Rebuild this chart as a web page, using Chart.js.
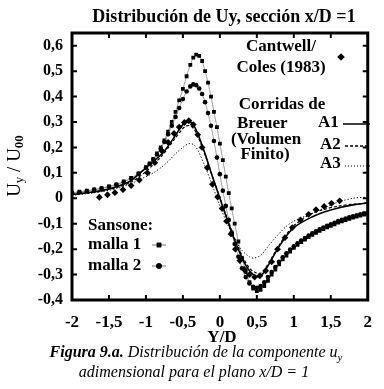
<!DOCTYPE html>
<html>
<head>
<meta charset="utf-8">
<script src="https://cdn.jsdelivr.net/npm/chart.js@4.4.1/dist/chart.umd.min.js"></script>
<style>
  html, body { margin: 0; padding: 0; background: #fff; }
  #wrap { width: 384px; height: 389px; }
</style>
</head>
<body>
<div id="wrap"><canvas id="c" width="384" height="389"></canvas></div>
<script>
// tick values
const xTickValues = [-2, -1.5, -1, -0.5, 0, 0.5, 1, 1.5, 2];
const yTickValues = [-0.4, -0.3, -0.2, -0.1, 0, 0.1, 0.2, 0.3, 0.4, 0.5, 0.6];

// Sansone, malla 1 y malla 2 (mismas posiciones Y/D)
const sansoneX = [-2.0, -1.9, -1.8, -1.7, -1.6, -1.5, -1.4, -1.3, -1.2, -1.1, -1.0, -0.95, -0.9, -0.85,
  -0.8, -0.75, -0.7, -0.65, -0.6, -0.55, -0.5, -0.45, -0.4, -0.36, -0.32, -0.28, -0.24, -0.2, -0.16,
  -0.12, -0.08, -0.04, 0.0, 0.04, 0.08, 0.12, 0.16, 0.2, 0.25, 0.3, 0.35, 0.4, 0.45, 0.5, 0.55, 0.6,
  0.65, 0.7, 0.75, 0.8, 0.85, 0.9, 0.95, 1.0, 1.05, 1.1, 1.15, 1.2, 1.25, 1.3, 1.35, 1.4, 1.45, 1.5,
  1.55, 1.6, 1.65, 1.7, 1.75, 1.8, 1.85, 1.9, 1.95, 2.0];
const malla1Y = [0.022, 0.026, 0.030, 0.035, 0.040, 0.047, 0.055, 0.066, 0.080, 0.098, 0.122, 0.137, 0.155, 0.176,
  0.200, 0.228, 0.262, 0.300, 0.340, 0.385, 0.430, 0.480, 0.525, 0.553, 0.565, 0.560, 0.540, 0.500, 0.455,
  0.400, 0.340, 0.280, 0.215, 0.150, 0.085, 0.020, -0.040, -0.100, -0.170, -0.235, -0.290, -0.330, -0.355, -0.365, -0.360, -0.345,
  -0.325, -0.300, -0.280, -0.260, -0.240, -0.225, -0.210, -0.195, -0.183, -0.172, -0.162, -0.153, -0.144, -0.136, -0.128, -0.121, -0.114, -0.108,
  -0.102, -0.096, -0.091, -0.086, -0.081, -0.076, -0.072, -0.068, -0.064, -0.060];
const malla2Y = [0.020, 0.024, 0.028, 0.033, 0.038, 0.045, 0.053, 0.064, 0.078, 0.096, 0.120, 0.135, 0.152, 0.172,
  0.195, 0.222, 0.252, 0.285, 0.320, 0.355, 0.390, 0.420, 0.440, 0.448, 0.445, 0.432, 0.410, 0.378, 0.335,
  0.285, 0.225, 0.160, 0.095, 0.030, -0.030, -0.085, -0.135, -0.180, -0.230, -0.275, -0.310, -0.335, -0.348, -0.352, -0.345, -0.330,
  -0.310, -0.290, -0.270, -0.250, -0.232, -0.216, -0.202, -0.189, -0.177, -0.166, -0.156, -0.147, -0.138, -0.130, -0.122, -0.115, -0.108, -0.102,
  -0.096, -0.090, -0.085, -0.080, -0.075, -0.071, -0.067, -0.063, -0.059, -0.055];

// Cantwell / Coles (1983)
const cantwellX = [-1.63, -1.52, -1.42, -1.31, -1.2, -1.09, -0.98, -0.88, -0.78, -0.7, -0.62, -0.55, -0.48, -0.42,
  -0.36, -0.3, -0.24, -0.17, -0.1, -0.03, 0.03, 0.09, 0.15, 0.21, 0.27, 0.33, 0.4, 0.47, 0.54, 0.62, 0.7,
  0.78, 0.88, 0.98, 1.09, 1.2, 1.3, 1.41, 1.51, 1.62];
const cantwellY = [0.004, 0.014, 0.022, 0.034, 0.05, 0.072, 0.1, 0.14, 0.185, 0.22, 0.255, 0.28, 0.298, 0.305,
  0.29, 0.25, 0.2, 0.12, 0.055, 0.005, -0.04, -0.09, -0.14, -0.2, -0.245, -0.28, -0.3, -0.31, -0.305, -0.285, -0.25,
  -0.2, -0.155, -0.115, -0.085, -0.063, -0.045, -0.032, -0.02, -0.01];

// Breuer (Volumen Finito) A1, A2, A3
const breuerX = [-2, -1.8, -1.6, -1.4, -1.2, -1.0, -0.9, -0.8, -0.7, -0.6, -0.5, -0.45, -0.4, -0.35, -0.3, -0.2,
  -0.1, 0, 0.1, 0.2, 0.3, 0.4, 0.5, 0.55, 0.6, 0.7, 0.8, 0.9, 1.0, 1.2, 1.4, 1.6, 1.8, 2.0];
const a1Y = [0.015, 0.022, 0.03, 0.045, 0.07, 0.12, 0.145, 0.17, 0.205, 0.248, 0.29, 0.3, 0.3, 0.285, 0.255, 0.175,
  0.085, 0.0, -0.085, -0.165, -0.235, -0.285, -0.308, -0.305, -0.29, -0.24, -0.19, -0.148, -0.115, -0.08, -0.055, -0.038, -0.026, -0.018];
const a2Y = [0.014, 0.02, 0.028, 0.042, 0.064, 0.105, 0.133, 0.162, 0.198, 0.238, 0.275, 0.285, 0.285, 0.272, 0.245, 0.17,
  0.085, 0.003, -0.08, -0.158, -0.225, -0.275, -0.295, -0.295, -0.282, -0.235, -0.185, -0.142, -0.108, -0.066, -0.044, -0.031, -0.023, -0.019];
const a3X = [-2, -1.8, -1.6, -1.4, -1.2, -1.0, -0.9, -0.8, -0.7, -0.6, -0.5, -0.42, -0.35, -0.3, -0.2, -0.1, 0, 0.1,
  0.2, 0.3, 0.4, 0.46, 0.55, 0.65, 0.75, 0.9, 1.0, 1.2, 1.4, 1.6, 1.8, 2.0];
const a3Y = [0.012, 0.018, 0.026, 0.038, 0.058, 0.085, 0.1, 0.12, 0.145, 0.175, 0.2, 0.215, 0.21, 0.19, 0.125, 0.05, -0.03, -0.1,
  -0.16, -0.205, -0.23, -0.235, -0.225, -0.19, -0.155, -0.11, -0.09, -0.065, -0.04, -0.015, 0.0, 0.005];

const pts = (xs, ys) => xs.map((x, i) => ({ x, y: ys[i] }));
const fmt = (v) => String(Math.round(v * 10) / 10).replace('.', ',');

const SERIF = "'Liberation Serif', 'Times New Roman', serif";

// texto con sub-indices: runs = [[texto, fuente, dy]]
function drawRuns(ctx, runs, x, y, align) {
  let w = 0;
  runs.forEach(([t, f]) => { ctx.font = f; w += ctx.measureText(t).width; });
  let cx = align === 'center' ? x - w / 2 : align === 'right' ? x - w : x;
  ctx.textAlign = 'left';
  runs.forEach(([t, f, dy]) => {
    ctx.font = f;
    ctx.fillText(t, cx, y + (dy || 0));
    cx += ctx.measureText(t).width;
  });
}

const frame = {
  id: 'frame',
  afterDraw(chart) {
    const { ctx, chartArea: a, scales: { x, y } } = chart;
    ctx.save();
    ctx.strokeStyle = '#000';
    ctx.fillStyle = '#000';

    // marcas interiores
    ctx.lineWidth = 2;
    ctx.beginPath();
    x.ticks.forEach((t) => {
      const px = x.getPixelForValue(t.value);
      ctx.moveTo(px, a.top); ctx.lineTo(px, a.top + 5);
      ctx.moveTo(px, a.bottom); ctx.lineTo(px, a.bottom - 5);
    });
    y.ticks.forEach((t) => {
      const py = y.getPixelForValue(t.value);
      ctx.moveTo(a.left, py); ctx.lineTo(a.left + 5, py);
      ctx.moveTo(a.right, py); ctx.lineTo(a.right - 5, py);
    });
    ctx.stroke();

    ctx.lineWidth = 3;
    ctx.strokeRect(a.left, a.top, a.right - a.left, a.bottom - a.top);

    ctx.textBaseline = 'middle';
    const B17 = 'bold 17px ' + SERIF;
    drawRuns(ctx, [['Distribución de Uy, sección x/D =1', 'bold 18px ' + SERIF]], 224, 17, 'center');

    // leyenda Cantwell
    drawRuns(ctx, [['Cantwell/', B17]], 281, 47, 'center');
    drawRuns(ctx, [['Coles (1983)', B17]], 281, 68, 'center');
    // leyenda Breuer
    drawRuns(ctx, [['Corridas de', B17]], 282, 105, 'center');
    drawRuns(ctx, [['Breuer', B17]], 237, 124, 'left');
    drawRuns(ctx, [['(Volumen', B17]], 266, 140, 'center');
    drawRuns(ctx, [['Finito)', B17]], 265, 155, 'center');
    drawRuns(ctx, [['A1', B17]], 318, 123, 'left');
    drawRuns(ctx, [['A2', B17]], 320, 145, 'left');
    drawRuns(ctx, [['A3', B17]], 320, 164, 'left');
    // leyenda Sansone
    drawRuns(ctx, [['Sansone:', B17]], 88, 226, 'left');
    drawRuns(ctx, [['malla 1', B17]], 88, 245, 'left');
    drawRuns(ctx, [['malla 2', B17]], 88, 266, 'left');

    // simbolos de leyenda
    ctx.lineWidth = 1.5;
    ctx.beginPath(); ctx.moveTo(343, 124); ctx.lineTo(370, 124); ctx.stroke();
    ctx.setLineDash([3, 2]);
    ctx.beginPath(); ctx.moveTo(345, 146); ctx.lineTo(370, 146); ctx.stroke();
    ctx.setLineDash([1, 2]); ctx.lineWidth = 1;
    ctx.beginPath(); ctx.moveTo(345, 166); ctx.lineTo(370, 166); ctx.stroke();
    ctx.setLineDash([]);
    ctx.lineWidth = 1;
    ctx.strokeStyle = '#777';
    ctx.beginPath(); ctx.moveTo(152, 245); ctx.lineTo(166, 245); ctx.stroke();
    ctx.beginPath(); ctx.moveTo(152, 266); ctx.lineTo(166, 266); ctx.stroke();
    Chart.helpers.drawPoint(ctx, { pointStyle: 'rect', radius: 3.2, rotation: 0, borderWidth: 0 }, 159, 245);
    ctx.fill();
    Chart.helpers.drawPoint(ctx, { pointStyle: 'circle', radius: 2.8, rotation: 0, borderWidth: 0 }, 159, 266);
    ctx.fill();
    Chart.helpers.drawPoint(ctx, { pointStyle: 'rectRot', radius: 3.6, rotation: 0, borderWidth: 0 }, 341, 57);
    ctx.fill();

    // titulo eje y
    ctx.save();
    ctx.translate(15, 166);
    ctx.rotate(-Math.PI / 2);
    const R18 = '19px ' + SERIF;
    const R12 = '13px ' + SERIF;
    const B12 = 'bold 13px ' + SERIF;
    drawRuns(ctx, [['U', R18], ['y', R12, 5], [' / U', R18], ['00', B12, 5]], 0, 0, 'center');
    ctx.restore();

    // titulo eje x y pie de figura
    drawRuns(ctx, [['Y/D', B17]], 222, 338, 'center');
    const I16 = 'italic 16px ' + SERIF;
    const BI16 = 'italic bold 16px ' + SERIF;
    const I11 = 'italic 11px ' + SERIF;
    drawRuns(ctx, [['Figura 9.a.', BI16], [' Distribución de la componente u', I16], ['y', I11, 5]], 196, 353, 'center');
    drawRuns(ctx, [['adimensional para el plano x/D = 1', I16]], 194, 373, 'center');
    ctx.restore();
  }
};

const lineBase = { showLine: true, pointRadius: 0, borderColor: '#000', tension: 0.3, fill: false };

new Chart(document.getElementById('c'), {
  type: 'scatter',
  data: {
    datasets: [
      { ...lineBase, label: 'A3', data: pts(a3X, a3Y), borderWidth: 1, borderDash: [1.2, 2] },
      { ...lineBase, label: 'A2', data: pts(breuerX, a2Y), borderWidth: 1.2, borderDash: [3, 2] },
      { ...lineBase, label: 'A1', data: pts(breuerX, a1Y), borderWidth: 1.6 },
      {
        label: 'Cantwell/Coles (1983)', data: pts(cantwellX, cantwellY), showLine: false,
        pointStyle: 'rectRot', pointRadius: 3.4, pointBackgroundColor: '#000', pointBorderColor: '#000', pointBorderWidth: 0
      },
      {
        label: 'malla 2', data: pts(sansoneX, malla2Y), showLine: true, borderColor: '#888', borderWidth: 0.8, tension: 0.3,
        pointStyle: 'circle', pointRadius: 2.3, pointBackgroundColor: '#000', pointBorderColor: '#000', pointBorderWidth: 0
      },
      {
        label: 'malla 1', data: pts(sansoneX, malla1Y), showLine: true, borderColor: '#888', borderWidth: 0.8, tension: 0.3,
        pointStyle: 'rect', pointRadius: 2.7, pointBackgroundColor: '#000', pointBorderColor: '#000', pointBorderWidth: 0
      }
    ]
  },
  options: {
    responsive: false,
    animation: false,
    layout: { padding: { top: 33, right: 11, left: 0, bottom: 0 } },
    plugins: { legend: { display: false }, tooltip: { enabled: false } },
    scales: {
      x: {
        type: 'linear', min: -2, max: 2,
        grid: { display: false, drawTicks: false },
        border: { display: false },
        afterBuildTicks: (s) => { s.ticks = xTickValues.map((v) => ({ value: v })); },
        afterFit: (s) => { s.height = 89; },
        ticks: { padding: 12, color: '#000', font: { family: SERIF, size: 17, weight: 'bold' }, callback: fmt, maxRotation: 0 }
      },
      y: {
        type: 'linear', min: -0.4, max: 0.65,
        grid: { display: false, drawTicks: false },
        border: { display: false },
        afterBuildTicks: (s) => { s.ticks = yTickValues.map((v) => ({ value: v })); },
        afterFit: (s) => { s.width = 72; },
        ticks: { padding: 9, color: '#000', font: { family: SERIF, size: 16, weight: 'bold' }, callback: fmt }
      }
    }
  },
  plugins: [frame]
});
</script>
</body>
</html>
